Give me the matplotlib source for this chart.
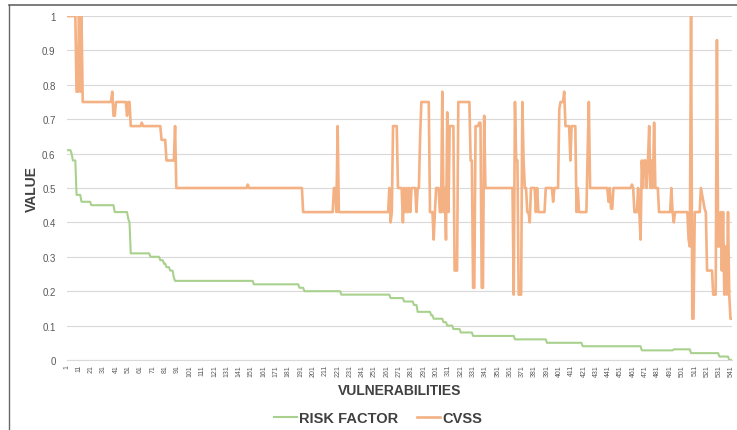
import numpy as np
import matplotlib
matplotlib.use("Agg")
import matplotlib.pyplot as plt
from matplotlib.lines import Line2D

plt.rcParams["font.family"] = ["Liberation Sans", "DejaVu Sans"]

n_vuln = 541

# step series: index where a level starts, and that level
risk_start = [1, 5, 6, 9, 13, 21, 40, 51, 52, 53, 69, 77, 80, 82, 85, 88, 89,
              153, 190, 194, 224, 264, 275, 283, 286, 297, 299, 307, 310, 315,
              321, 331, 365, 391, 420, 468, 494, 508, 531, 539]
risk_value = [0.61, 0.60, 0.58, 0.48, 0.46, 0.45, 0.43, 0.41, 0.40, 0.31, 0.30,
              0.29, 0.28, 0.27, 0.26, 0.24, 0.23, 0.22, 0.21, 0.20, 0.19, 0.18,
              0.17, 0.16, 0.14, 0.13, 0.12, 0.11, 0.10, 0.09, 0.08, 0.07, 0.06,
              0.05, 0.04, 0.028, 0.031, 0.02, 0.01, 0.0]

cvss_start = [1, 9, 11, 12, 13, 14, 38, 39, 41, 50, 51, 53, 62, 63, 78, 82, 89,
              90, 148, 149, 193, 218, 220, 221, 222, 263, 264, 265, 266, 270,
              274, 275, 276, 277, 278, 279, 280, 281, 285, 286, 288, 289, 296,
              299, 300, 301, 304, 306, 307, 308, 309, 310, 311, 312, 316, 319,
              329, 331, 333, 336, 338, 340, 341, 364, 365, 366, 368, 371, 372,
              373, 375, 377, 378, 382, 383, 384, 390, 396, 397, 401, 402, 405,
              406, 410, 411, 415, 416, 417, 424, 425, 426, 441, 442, 443, 445,
              460, 461, 462, 465, 466, 467, 468, 469, 470, 472, 473, 474, 475,
              476, 477, 478, 479, 482, 492, 493, 494, 495, 506, 507, 508, 509,
              511, 516, 517, 518, 519, 520, 521, 526, 529, 530, 532, 533, 534,
              535, 536, 537, 538, 539, 540]
cvss_value = [1.0, 0.78, 1.0, 0.78, 1.0, 0.75, 0.78, 0.71, 0.75, 0.71, 0.75,
              0.68, 0.69, 0.68, 0.64, 0.58, 0.68, 0.5, 0.51, 0.5, 0.43, 0.5,
              0.43, 0.68, 0.43, 0.5, 0.40, 0.43, 0.68, 0.5, 0.40, 0.5, 0.43,
              0.5, 0.43, 0.5, 0.43, 0.5, 0.43, 0.5, 0.65, 0.75, 0.43, 0.35,
              0.43, 0.5, 0.43, 0.78, 0.43, 0.5, 0.35, 0.72, 0.43, 0.68, 0.26,
              0.75, 0.58, 0.21, 0.68, 0.69, 0.21, 0.71, 0.5, 0.19, 0.75, 0.58,
              0.19, 0.75, 0.58, 0.5, 0.43, 0.40, 0.5, 0.43, 0.5, 0.43, 0.5,
              0.46, 0.5, 0.73, 0.75, 0.78, 0.68, 0.58, 0.68, 0.43, 0.5, 0.43,
              0.6, 0.75, 0.5, 0.46, 0.5, 0.44, 0.5, 0.51, 0.5, 0.43, 0.5, 0.43,
              0.35, 0.58, 0.5, 0.58, 0.5, 0.58, 0.68, 0.5, 0.58, 0.5, 0.69,
              0.5, 0.43, 0.5, 0.43, 0.40, 0.43, 0.35, 0.33, 1.0, 0.12, 0.43,
              0.5, 0.48, 0.46, 0.44, 0.43, 0.26, 0.19, 0.93, 0.33, 0.43, 0.26,
              0.43, 0.19, 0.33, 0.19, 0.43, 0.19, 0.12]

x_ticks = list(range(1, n_vuln + 1, 10))
y_ticks = [0, 0.1, 0.2, 0.3, 0.4, 0.5, 0.6, 0.7, 0.8, 0.9, 1]
y_tick_labels = ["0", "0.1", "0.2", "0.3", "0.4", "0.5", "0.6", "0.7", "0.8", "0.9", "1"]


def expand(starts, values, n):
    counts = np.diff(starts + [n + 1])
    return np.repeat(values, counts)


idx = np.arange(1, n_vuln + 1)
risk = expand(risk_start, risk_value, n_vuln)
cvss = expand(cvss_start, cvss_value, n_vuln)

W, H = 737, 431
fig = plt.figure(figsize=(W / 100, H / 100), dpi=100)
ax = fig.add_axes([66.7 / W, 1 - 361 / H, (731.7 - 66.7) / W, (361 - 17) / H])

green = "#A9D18E"
orange = "#F4B183"
ax.plot(idx, risk, color=green, lw=1.5, label="RISK FACTOR")
ax.plot(idx, cvss, color=orange, lw=1.9, label="CVSS")

ax.set_xlim(1, n_vuln)
ax.set_ylim(0, 1)
ax.set_yticks(y_ticks)
ax.set_yticklabels(y_tick_labels)
ax.set_xticks(x_ticks)
ax.set_xticklabels([str(t) for t in x_ticks], rotation=90, fontsize=5, color="#595959")
ax.tick_params(axis="y", length=0, pad=8, labelsize=7, labelcolor="#595959")
ax.tick_params(axis="x", length=0, pad=3)
ax.grid(axis="y", color="#D9D9D9", lw=0.8)
ax.set_axisbelow(True)
for s in ["left", "right", "top"]:
    ax.spines[s].set_visible(False)
ax.spines["bottom"].set_color("#D9D9D9")

ax.set_ylabel("VALUE", fontsize=10, fontweight="bold", color="#404040", labelpad=2)
ax.set_xlabel("VULNERABILITIES", fontsize=10, fontweight="bold", color="#404040", labelpad=5)

fig.legend(loc="center", bbox_to_anchor=(378 / W, 1 - 419 / H), ncol=2, frameon=False,
           prop={"weight": "bold", "size": 10.5}, labelcolor="#404040",
           handlelength=1.6, handletextpad=0.15, columnspacing=1.3)

# outer frame of the picture
fx0, fy1 = 9 / W, 1 - 6 / H
fig.add_artist(Line2D([fx0, fx0], [0, fy1], transform=fig.transFigure, color="#666666", lw=1))
fig.add_artist(Line2D([fx0, 1], [fy1, fy1], transform=fig.transFigure, color="#666666", lw=1.2))

fig.savefig("out.png", dpi=100)
